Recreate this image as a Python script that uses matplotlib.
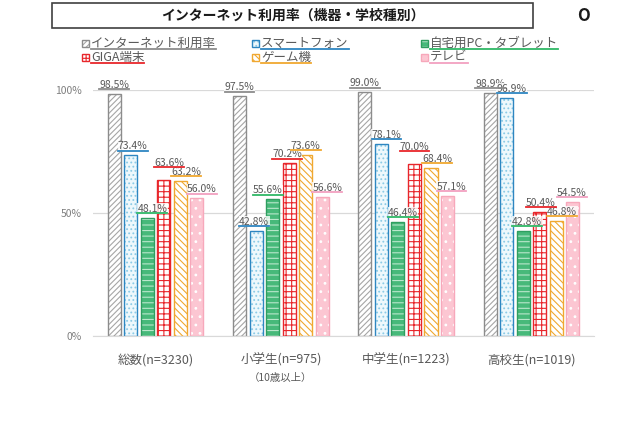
import numpy as np
import matplotlib
matplotlib.use("Agg")
import matplotlib.pyplot as plt
from matplotlib.patches import Rectangle
from matplotlib.lines import Line2D

plt.rcParams['font.family'] = ['Noto Sans CJK JP', 'DejaVu Sans']
plt.rcParams['hatch.linewidth'] = 0.8

# データ
title = "インターネット利用率（機器・学校種別）"
categories = ["総数(n=3230)", "小学生(n=975)\n（10歳以上）", "中学生(n=1223)", "高校生(n=1019)"]
series_names = ["インターネット利用率", "スマートフォン", "自宅用PC・タブレット",
                "GIGA端末", "ゲーム機", "テレビ"]
internet = [98.5, 97.5, 99.0, 98.9]
smartphone = [73.4, 42.8, 78.1, 96.9]
pc_tablet = [48.1, 55.6, 46.4, 42.8]
giga = [63.6, 70.2, 70.0, 50.4]
game = [63.2, 73.6, 68.4, 46.8]
tv = [56.0, 56.6, 57.1, 54.5]
yticks = [0, 50, 100]
ytick_labels = ["0%", "50%", "100%"]

values = [internet, smartphone, pc_tablet, giga, game, tv]

# スタイル (面の色, ハッチ, ハッチの色, 枠の色, 下線の色)
styles = [
    ("white", "//////", "#a6a6a6", "#8c8c8c", "#8c8c8c"),
    ("#eef8fc", "....", "#8ccbe6", "#2e86c1", "#2e86c1"),
    ("#47b97a", "---", "#b9e6cb", "#2f9e60", "#2fb866"),
    ("white", "+++", "#e8262b", "#e8262b", "#e8262b"),
    ("white", "\\\\\\\\\\", "#f0a830", "#f0a830", "#f0a830"),
    ("#fcc6d2", "..", "white", "#f7a8bb", "#f2a0c0"),
]

# ラベルのずらし量 (ピクセル)
label_dx = [
    [0, 0, 0, 0],
    [2, -2, 5, 5],
    [5, -5, 5, 4],
    [5, -2, 0, 1],
    [6, 0, 6, 6],
    [5, 5, 4, -1],
]
label_dy = [
    [0, 0, 0, 0],
    [0, 0, 0, 0],
    [0, 0, 0, 0],
    [8, 0, 8, 0],
    [0, 0, 0, 0],
    [0, 0, 0, 0],
]

fig = plt.figure(figsize=(6.4, 4.26), dpi=100)
ax = fig.add_axes([0.1453, 0.2113, 0.783, 0.5775])

x = np.arange(len(categories))
slot = 0.132
width = 0.104
offsets = (np.arange(6) - 2.5) * slot


def draw_bar(target, xs, hs, st):
    face, hatch, hcol, ecol, _ = st
    target.bar(xs, hs, width, color=face, linewidth=0)
    target.bar(xs, hs, width, facecolor="none", edgecolor=hcol, hatch=hatch, linewidth=0)
    target.bar(xs, hs, width, facecolor="none", edgecolor=ecol, linewidth=1.0)


for i, (vals, st) in enumerate(zip(values, styles)):
    draw_bar(ax, x + offsets[i], vals, st)

ax.set_xlim(-0.5, len(categories) - 0.5)
ax.set_ylim(0, 100)
ax.set_yticks(yticks)
ax.set_yticklabels(ytick_labels, color="#7f7f7f", fontsize=7.5)
ax.tick_params(axis="y", length=0, pad=8)
ax.set_xticks([])
ax.grid(axis="y", color="#d9d9d9", linewidth=0.9)
ax.set_axisbelow(True)
for s in ["top", "right", "left"]:
    ax.spines[s].set_visible(False)
ax.spines["bottom"].set_color("#d9d9d9")

for xi, cat in zip(x, categories):
    lines = cat.split("\n")
    ax.text(xi, -7, lines[0], ha="center", va="top", fontsize=9, color="#595959")
    if len(lines) > 1:
        ax.text(xi, -15, lines[1], ha="center", va="top", fontsize=7.5, color="#595959")

fig.canvas.draw()
renderer = fig.canvas.get_renderer()
inv = fig.transFigure.inverted()


def underline(t, color, lw=1.2):
    bb = t.get_window_extent(renderer)
    (x0, y0), (x1, _) = inv.transform([[bb.x0, bb.y0 + 0.5], [bb.x1, bb.y1]])
    fig.add_artist(Line2D([x0, x1], [y0, y0], color=color, linewidth=lw,
                          transform=fig.transFigure))


# データラベル
px = 72 / fig.dpi
for i, (vals, st) in enumerate(zip(values, styles)):
    for j, (xi, v) in enumerate(zip(x, vals)):
        t = ax.annotate(f"{v:.1f}%", (xi + offsets[i], v),
                        xytext=(label_dx[i][j] * px, (4 + label_dy[i][j]) * px),
                        textcoords="offset points", ha="center", va="bottom",
                        fontsize=7.5, color="#595959", zorder=5, annotation_clip=False,
                        bbox=dict(facecolor="white", edgecolor="none", pad=0.3, alpha=0.8))
        fig.canvas.draw()
        underline(t, st[4], 1.3)

# タイトル
fig.add_artist(Rectangle((0.081, 0.934), 0.752, 0.059, transform=fig.transFigure,
                         facecolor="white", edgecolor="#404040", linewidth=1.2))
fig.text(0.457, 0.963, title, ha="center", va="center", fontsize=10,
         fontweight="bold", color="#1a1a1a")
fig.text(0.911, 0.962, "O", ha="center", va="center", fontsize=12,
         fontweight="bold", color="#1a1a1a")

# 凡例
leg_x = [0.128, 0.394, 0.658]
leg_y = [0.898, 0.866]
sw, sh = 0.011, 0.0164
for i, (name, st) in enumerate(zip(series_names, styles)):
    lx = leg_x[i % 3]
    ly = leg_y[i // 3]
    face, hatch, hcol, ecol, ucol = st
    fig.add_artist(Rectangle((lx, ly - sh / 2), sw, sh, transform=fig.transFigure,
                             facecolor=face, edgecolor="none"))
    fig.add_artist(Rectangle((lx, ly - sh / 2), sw, sh, transform=fig.transFigure,
                             facecolor="none", edgecolor=hcol, hatch=hatch, linewidth=0))
    fig.add_artist(Rectangle((lx, ly - sh / 2), sw, sh, transform=fig.transFigure,
                             facecolor="none", edgecolor=ecol, linewidth=1.0))
    t = fig.text(lx + 0.014, ly, name, ha="left", va="center", fontsize=9, color="#595959")
    fig.canvas.draw()
    underline(t, ucol, 1.3)

fig.savefig("out.png", dpi=100)
